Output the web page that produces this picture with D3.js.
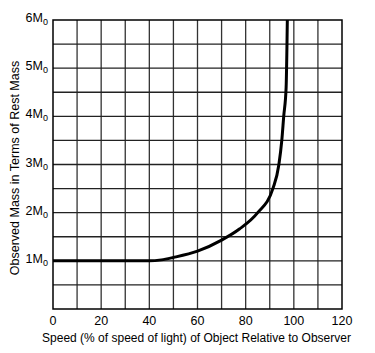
<!DOCTYPE html>
<html lang="en">
<head>
  <meta charset="UTF-8" />
  <title>Relativistic mass</title>
  <script src="https://d3js.org/d3.v7.min.js"></script>
  <style>
    body { margin: 0; padding: 0; background: #fff; }
    svg text { font-family: "Liberation Sans", Arial, sans-serif; fill: #000; }
  </style>
</head>
<body>
  <div id="chart"></div>
  <script>
    // speed as % of c, observed mass in units of M0
    const speeds = [0, 35, 40, 45, 50, 60, 70, 77.4, 85, 91.3, 93.8, 95, 95.8, 96.8, 97.3];
    const masses = [1, 1, 1, 1.02, 1.07, 1.2, 1.43, 1.66, 2.0, 2.5, 3.0, 3.5, 4.0, 4.6, 6.0];
    const xTicks = [0, 20, 40, 60, 80, 100, 120];
    const yTicks = [1, 2, 3, 4, 5, 6];

    const W = 375, H = 353;
    const margin = { top: 20, right: 33, bottom: 44, left: 53 };
    const width = W - margin.left - margin.right;
    const height = H - margin.top - margin.bottom;

    const svg = d3.select("#chart").append("svg")
      .attr("width", W).attr("height", H);
    const g = svg.append("g")
      .attr("transform", `translate(${margin.left},${margin.top})`);

    const x = d3.scaleLinear().domain([0, 120]).range([0, width]);
    const y = d3.scaleLinear().domain([0, 6]).range([height, 0]);

    // grid every 10% and every 0.5 M0
    g.append("g")
      .selectAll("line")
      .data(d3.range(10, 120, 10))
      .enter().append("line")
      .attr("x1", d => x(d)).attr("x2", d => x(d))
      .attr("y1", 0).attr("y2", height)
      .attr("stroke", "#333").attr("stroke-width", 1.3);

    g.append("g")
      .selectAll("line")
      .data(d3.range(0.5, 6, 0.5))
      .enter().append("line")
      .attr("x1", 0).attr("x2", width)
      .attr("y1", d => y(d)).attr("y2", d => y(d))
      .attr("stroke", "#222").attr("stroke-width", 1.3);

    g.append("rect")
      .attr("width", width).attr("height", height)
      .attr("fill", "none").attr("stroke", "#000").attr("stroke-width", 1.5);

    // x tick labels
    g.append("g")
      .selectAll("text")
      .data(xTicks)
      .enter().append("text")
      .attr("x", d => x(d))
      .attr("y", height + 16)
      .attr("text-anchor", "middle")
      .style("font-size", "12.5px")
      .text(d => d);

    // y tick labels with subscript 0
    const yl = g.append("g")
      .selectAll("text")
      .data(yTicks)
      .enter().append("text")
      .attr("x", -5)
      .attr("y", d => y(d) + 2)
      .attr("text-anchor", "end")
      .style("font-size", "12.5px");
    yl.append("tspan").text(d => d + "M");
    yl.append("tspan").attr("dy", 3).style("font-size", "9px").text("0");

    const points = speeds.map((s, i) => [s, masses[i]]);
    g.append("path")
      .datum(points)
      .attr("fill", "none")
      .attr("stroke", "#000")
      .attr("stroke-width", 3)
      .attr("stroke-linejoin", "round")
      .attr("d", d3.line()
        .x(d => x(d[0]))
        .y(d => y(d[1]))
        .curve(d3.curveMonotoneX));

    svg.append("text")
      .attr("x", margin.left + width / 2 - 1)
      .attr("y", H - 11)
      .attr("text-anchor", "middle")
      .style("font-size", "12px")
      .text("Speed (% of speed of light) of Object Relative to Observer");

    svg.append("text")
      .attr("transform", "translate(19,168) rotate(-90)")
      .attr("text-anchor", "middle")
      .style("font-size", "12.5px")
      .text("Observed Mass in Terms of Rest Mass");
  </script>
</body>
</html>
